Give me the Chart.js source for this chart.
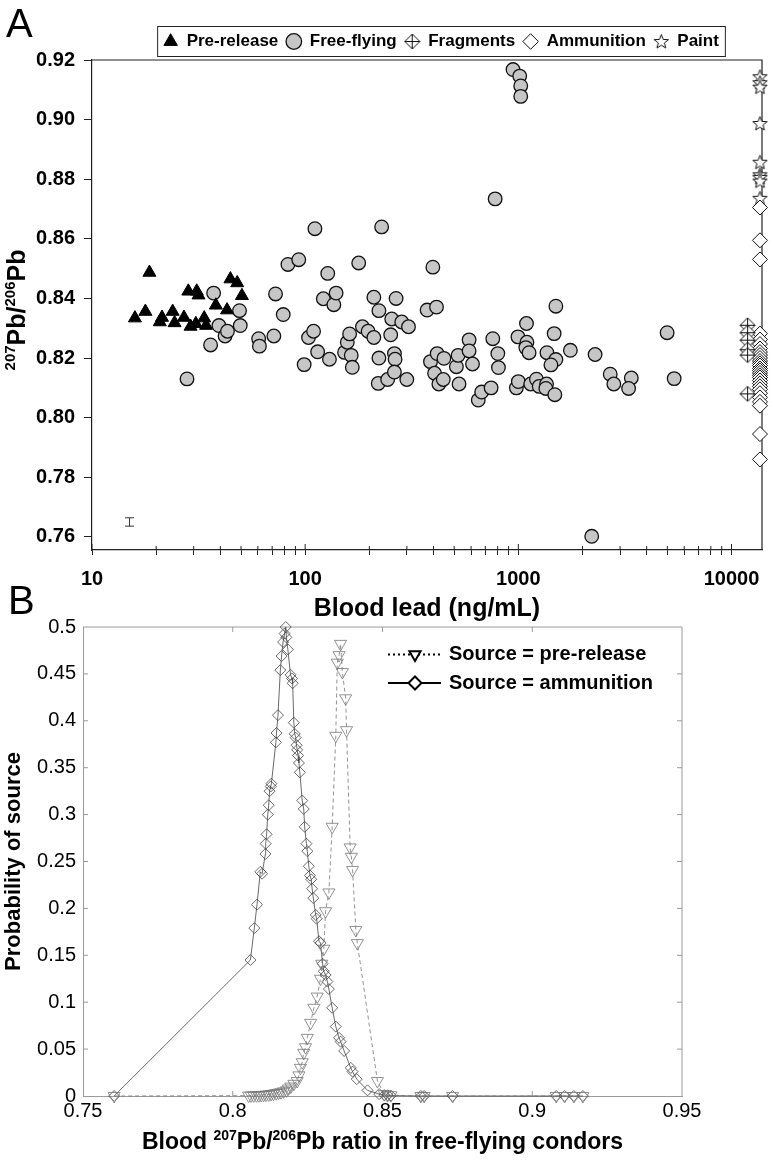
<!DOCTYPE html>
<html>
<head>
<meta charset="utf-8">
<script src="https://cdn.jsdelivr.net/npm/chart.js@4.4.1/dist/chart.umd.min.js"></script>
<style>
  html, body { margin: 0; padding: 0; background: #fff; }
  #wrap { position: relative; width: 773px; height: 1175px; }
  #chartA { position: absolute; left: 0; top: 0; }
  #chartB { position: absolute; left: 0; top: 590px; }
</style>
</head>
<body>
<div id="wrap">
  <canvas id="chartA" width="773" height="625"></canvas>
  <canvas id="chartB" width="773" height="585"></canvas>
</div>
<script>
// ---- Panel A: blood lead vs 207Pb/206Pb ----
const preLead  = [15.9, 17.8, 18.6, 20.8, 21.3, 23.9, 24.4, 27.0, 28.3, 29.0, 31.0, 31.6, 30.7, 33.6, 34.3, 38.1, 43.0, 44.6, 48.0, 50.5];
const preRatio = [0.8334, 0.8356, 0.8487, 0.8321, 0.8336, 0.8356, 0.8318, 0.8336, 0.8424, 0.8306, 0.8424, 0.8411, 0.8315, 0.8334, 0.8309, 0.8377, 0.8361, 0.8465, 0.8452, 0.8409];

const freeLead = [37.2, 27.9, 36.0, 39.4, 42.1, 43.2, 49.2, 49.6, 60.5, 61.0, 71.3, 72.6, 78.9, 83.0, 93.3, 98.9, 103.7, 109.5, 111.1, 114.4,
  127.6, 121.7, 130.0, 136.3, 139.7, 153.0, 157.6, 161.6, 164.5, 166.4, 178.3, 185.6, 197.4, 210.0, 210.0, 221.8, 221.8, 220.2, 228.4, 243.8,
  251.9, 254.7, 262.2, 264.1, 267.0, 262.2, 283.9, 299.8, 305.3, 373.3, 387.2, 397.2, 404.6, 413.2, 416.1, 423.8, 447.6, 444.5, 512.1, 521.6,
  527.0, 587.5, 587.5, 609.5, 648.6, 672.9, 745.2, 758.9, 778.4, 801.2, 806.6, 944, 1015, 1026, 1026, 996, 979, 1000,
  1500, 1092, 1097, 1084, 1123, 1472, 1754, 1362, 1500, 1422, 2291, 4988, 2698, 2805, 3388, 3290, 5382, 1143, 1216, 1253, 1356, 1346, 1483, 2209];
const freeRatio = [0.8418, 0.8130, 0.8244, 0.8309, 0.8274, 0.8290, 0.8359, 0.8309, 0.8265, 0.8240, 0.8274, 0.8415, 0.8346, 0.8514, 0.8530, 0.8178, 0.8269, 0.8290, 0.8634, 0.8221,
  0.8484, 0.8399, 0.8196, 0.8379, 0.8418, 0.8219, 0.8253, 0.8281, 0.8209, 0.8169, 0.8519, 0.8305, 0.8290, 0.8269, 0.8404, 0.8359, 0.8200, 0.8115, 0.8640, 0.8128,
  0.8278, 0.8331, 0.8215, 0.8196, 0.8400, 0.8153, 0.8321, 0.8128, 0.8305, 0.8361, 0.8188, 0.8505, 0.8149, 0.8371, 0.8215, 0.8113, 0.8199, 0.8128, 0.8171, 0.8209,
  0.8113, 0.8261, 0.8224, 0.8180, 0.8059, 0.8086, 0.8100, 0.8265, 0.8734, 0.8215, 0.8168, 0.9168, 0.9146, 0.9113, 0.9078, 0.8271, 0.8100, 0.8121,
  0.8374, 0.8316, 0.8253, 0.8235, 0.8218, 0.8282, 0.8226, 0.8218, 0.8195, 0.8177, 0.8212, 0.8285, 0.8146, 0.8113, 0.8133, 0.8098, 0.8131, 0.8113, 0.8129, 0.8105, 0.8113, 0.8098, 0.8077, 0.7602];

// source samples are plotted at the right edge of the axis
const fragLead = 11900;
const sourceLead = 13600;
const fragRatio  = [0.8310, 0.8285, 0.8260, 0.8228, 0.8210, 0.8080];
const ammoRatio  = [0.8705, 0.8595, 0.8531, 0.8282, 0.8262, 0.8247, 0.8232, 0.8220, 0.8210, 0.8200, 0.8190, 0.8182, 0.8175, 0.8165, 0.8158,
  0.8150, 0.8142, 0.8135, 0.8125, 0.8115, 0.8105, 0.8095, 0.8082, 0.8068, 0.8053, 0.8040, 0.7945, 0.7860];
const paintRatio = [0.9144, 0.9124, 0.9109, 0.8987, 0.8857, 0.8815, 0.8806, 0.8794, 0.8736];

// analytical error bar (lower left)
const errLead = [15];
const errLow  = [0.7636];
const errHigh = [0.7664];

const leadMajor = [10, 100, 1000, 10000];
const leadTicks = [10, 20, 30, 40, 50, 60, 70, 80, 90, 100, 200, 300, 400, 500, 600, 700, 800, 900,
  1000, 2000, 3000, 4000, 5000, 6000, 7000, 8000, 9000, 10000];
const ratioTicks = [0.76, 0.78, 0.80, 0.82, 0.84, 0.86, 0.88, 0.90, 0.92];

// ---- Panel B: probability of source ----
const ammoX = [0.7604, 0.8059, 0.8072, 0.8081, 0.8092, 0.8098, 0.8109, 0.8110, 0.8113, 0.8117, 0.8120, 0.8123, 0.8127, 0.8129, 0.8144, 0.8146,
  0.8151, 0.8159, 0.8163, 0.8168, 0.8173, 0.8177, 0.8179, 0.8184, 0.8193, 0.8198, 0.8200, 0.8204, 0.8207, 0.8210, 0.8213, 0.8215, 0.8218,
  0.8221, 0.8224, 0.8232, 0.8237, 0.8240, 0.8246, 0.8249, 0.8254, 0.8258, 0.8262, 0.8265, 0.8269, 0.8277, 0.8280, 0.8288, 0.8293, 0.8300,
  0.8304, 0.8310, 0.8316, 0.8321, 0.8332, 0.8344, 0.8355, 0.8360, 0.8372, 0.8394, 0.8400, 0.8414, 0.8450, 0.8489, 0.8506, 0.8517, 0.8528,
  0.8628, 0.8639, 0.8734, 0.9080, 0.9108, 0.9139, 0.9169];
const ammoP = [0, 0.145, 0.179, 0.204, 0.239, 0.237, 0.258, 0.269, 0.279, 0.300, 0.310, 0.325, 0.330, 0.333, 0.377, 0.387,
  0.406, 0.454, 0.469, 0.484, 0.493, 0.500, 0.489, 0.476, 0.449, 0.445, 0.440, 0.398, 0.386, 0.382, 0.374, 0.369, 0.363,
  0.355, 0.345, 0.315, 0.306, 0.287, 0.269, 0.261, 0.245, 0.235, 0.231, 0.221, 0.211, 0.193, 0.189, 0.165, 0.163, 0.141,
  0.133, 0.129, 0.122, 0.114, 0.094, 0.074, 0.062, 0.058, 0.048, 0.030, 0.026, 0.018, 0.006, 0.002, 0.001, 0.0008, 0.0004,
  0, 0, 0, 0, 0, 0, 0];

const preX = [0.7604, 0.8053, 0.8061, 0.8070, 0.8079, 0.8087, 0.8095, 0.8103, 0.8111, 0.8120, 0.8128, 0.8136, 0.8145, 0.8153, 0.8161, 0.8170,
  0.8179, 0.8186, 0.8194, 0.8204, 0.8215, 0.8221, 0.8226, 0.8232, 0.8237, 0.8243, 0.8249, 0.8260, 0.8271, 0.8282, 0.8293, 0.8297, 0.8304,
  0.8310, 0.8321, 0.8332, 0.8344, 0.8349, 0.8355, 0.8360, 0.8366, 0.8377, 0.8380, 0.8392, 0.8396, 0.8400, 0.8411, 0.8416, 0.8483, 0.8506,
  0.8517, 0.8528, 0.8628, 0.8639, 0.8734, 0.9080, 0.9108, 0.9139, 0.9169];
const preP = [0, 0.0004, 0.0005, 0.0006, 0.0007, 0.0008, 0.001, 0.0012, 0.0014, 0.0016, 0.002, 0.0025, 0.003, 0.0035, 0.004, 0.005,
  0.006, 0.008, 0.010, 0.013, 0.016, 0.022, 0.030, 0.036, 0.046, 0.052, 0.062, 0.078, 0.094, 0.106, 0.125, 0.141, 0.157,
  0.197, 0.217, 0.287, 0.384, 0.462, 0.470, 0.482, 0.452, 0.424, 0.390, 0.265, 0.255, 0.241, 0.177, 0.163, 0.016, 0.002,
  0.001, 0.0008, 0, 0, 0, 0, 0, 0, 0];

const probXTicks = [0.75, 0.8, 0.85, 0.9, 0.95];
const probYTicks = [0, 0.05, 0.1, 0.15, 0.2, 0.25, 0.3, 0.35, 0.4, 0.45, 0.5];

const FONT = "'Liberation Sans', Arial, sans-serif";
Chart.defaults.font.family = FONT;
Chart.defaults.color = '#000';

function pts(xs, ys) {
  return xs.map((x, i) => ({ x: x, y: ys[i] }));
}

// custom markers
function makeStar(size, outer, inner) {
  const c = document.createElement('canvas');
  c.width = c.height = size;
  const g = c.getContext('2d');
  const m = size / 2;
  g.beginPath();
  for (let i = 0; i < 10; i++) {
    const r = i % 2 ? inner : outer;
    const a = -Math.PI / 2 + i * Math.PI / 5;
    g.lineTo(m + r * Math.cos(a), m + 0.5 + r * Math.sin(a));
  }
  g.closePath();
  g.fillStyle = '#fff';
  g.fill();
  g.strokeStyle = '#111';
  g.lineWidth = 1;
  g.stroke();
  return c;
}

function makeCrossDiamond(size, half) {
  const c = document.createElement('canvas');
  c.width = c.height = size;
  const g = c.getContext('2d');
  const m = size / 2;
  g.beginPath();
  g.moveTo(m, m - half); g.lineTo(m + half, m); g.lineTo(m, m + half); g.lineTo(m - half, m);
  g.closePath();
  g.fillStyle = '#fff';
  g.fill();
  g.strokeStyle = '#111';
  g.lineWidth = 1;
  g.stroke();
  g.beginPath();
  g.moveTo(m, m - half); g.lineTo(m, m + half);
  g.moveTo(m - half, m); g.lineTo(m + half, m);
  g.stroke();
  return c;
}

const starImg = makeStar(17, 7.5, 3.2);
const fragImg = makeCrossDiamond(17, 7.5);

// text with superscripts: parts = [[text, isSup], ...]
function drawRich(ctx, parts, cx, baseY, mainSize, supSize, rise) {
  const mainFont = 'bold ' + mainSize + 'px ' + FONT;
  const supFont = 'bold ' + supSize + 'px ' + FONT;
  let total = 0;
  parts.forEach(p => { ctx.font = p[1] ? supFont : mainFont; total += ctx.measureText(p[0]).width; });
  let x = cx - total / 2;
  ctx.textAlign = 'left';
  ctx.textBaseline = 'alphabetic';
  parts.forEach(p => {
    ctx.font = p[1] ? supFont : mainFont;
    ctx.fillText(p[0], x, p[1] ? baseY - rise : baseY);
    x += ctx.measureText(p[0]).width;
  });
}

const panelAPlugin = {
  id: 'panelA',
  afterLayout(chart) {
    // centre the legend a little right of the plot centre, as in the figure
    chart.legend.left = 120;
    chart.legend.right = 762;
  },
  beforeDatasetsDraw(chart) {
    const { ctx, chartArea: a, scales: { x } } = chart;
    ctx.save();
    ctx.strokeStyle = '#222';
    ctx.lineWidth = 1.2;
    ctx.beginPath();
    ctx.moveTo(a.left, a.top); ctx.lineTo(a.right, a.top); ctx.lineTo(a.right, a.bottom);
    ctx.stroke();
    // inner half of the x ticks
    ctx.lineWidth = 1;
    leadTicks.forEach(v => {
      const px = x.getPixelForValue(v);
      const len = leadMajor.includes(v) ? 6 : 4;
      ctx.beginPath();
      ctx.moveTo(px, a.bottom); ctx.lineTo(px, a.bottom - len);
      ctx.stroke();
    });
    ctx.restore();
  },
  afterDraw(chart) {
    const { ctx } = chart;
    ctx.save();
    // legend frame
    const boxes = chart.legend.legendHitBoxes;
    if (boxes && boxes.length) {
      const l = Math.min(...boxes.map(b => b.left)) - 6;
      const r = Math.max(...boxes.map(b => b.left + b.width)) + 6;
      const t = Math.min(...boxes.map(b => b.top)) - 7;
      const bt = Math.max(...boxes.map(b => b.top + b.height)) + 6;
      ctx.strokeStyle = '#222';
      ctx.lineWidth = 1;
      ctx.strokeRect(l + 0.5, t + 0.5, r - l, bt - t);
    }
    // panel letters
    ctx.fillStyle = '#000';
    ctx.font = '40px ' + FONT;
    ctx.textAlign = 'left';
    ctx.textBaseline = 'alphabetic';
    ctx.fillText('A', 6, 37);
    ctx.fillText('B', 8, 614);
    // y-axis title
    ctx.translate(25, chart.chartArea.top + chart.chartArea.height / 2 + 5);
    ctx.rotate(-Math.PI / 2);
    drawRich(ctx, [['207', true], ['Pb/', false], ['206', true], ['Pb', false]], 0, 0, 25, 15, 10);
    ctx.restore();
  }
};

new Chart(document.getElementById('chartA'), {
  type: 'scatter',
  data: {
    datasets: [
      { label: 'Pre-release', data: pts(preLead, preRatio), pointStyle: 'triangle', pointRadius: 7.5,
        backgroundColor: '#000', borderColor: '#000', borderWidth: 1, clip: false },
      { label: 'Free-flying', data: pts(freeLead, freeRatio), pointStyle: 'circle', pointRadius: 6.8,
        backgroundColor: '#c6c6c6', borderColor: '#111', borderWidth: 1.3, clip: false },
      { label: 'Fragments', data: fragRatio.map(r => ({ x: fragLead, y: r })), pointStyle: fragImg, pointRadius: 8,
        backgroundColor: '#fff', borderColor: '#111', borderWidth: 1, clip: false },
      { label: 'Ammunition', data: ammoRatio.map(r => ({ x: sourceLead, y: r })), pointStyle: 'rectRot', pointRadius: 7.5,
        backgroundColor: '#fff', borderColor: '#111', borderWidth: 1, clip: false },
      { label: 'Paint', data: paintRatio.map(r => ({ x: sourceLead, y: r })), pointStyle: starImg, pointRadius: 8,
        backgroundColor: '#fff', borderColor: '#111', borderWidth: 1, clip: false },
      { label: '', data: errLead.flatMap((x, i) => [{ x: x, y: errLow[i] }, { x: x, y: errHigh[i] }]),
        showLine: true, pointStyle: 'line', pointRadius: 4.5, borderColor: '#333', backgroundColor: '#333', borderWidth: 1 }
    ]
  },
  options: {
    responsive: false,
    animation: false,
    devicePixelRatio: 1,
    layout: { padding: { top: 25, right: 11, left: 0, bottom: 0 } },
    plugins: {
      tooltip: { enabled: false },
      legend: {
        position: 'top',
        labels: {
          usePointStyle: true,
          boxWidth: 15,
          boxHeight: 11,
          padding: 8,
          color: '#000',
          font: { size: 17, weight: 'bold' },
          filter: item => item.text !== ''
        }
      }
    },
    scales: {
      x: {
        type: 'logarithmic',
        min: 10,
        max: 13900,
        afterBuildTicks: s => { s.ticks = leadTicks.map(v => ({ value: v, major: leadMajor.includes(v) })); },
        afterFit: s => { s.height = 75; },
        border: { color: '#222', width: 1.2 },
        grid: { drawOnChartArea: false, tickLength: 5, tickColor: '#222', tickWidth: 1 },
        ticks: {
          autoSkip: false, maxRotation: 0, padding: 12, color: '#000',
          font: { size: 20, weight: 'bold' },
          callback: v => leadMajor.includes(v) ? String(v) : ''
        },
        title: {
          display: true, text: 'Blood lead (ng/mL)', color: '#000',
          font: { size: 25, weight: 'bold' }, padding: { top: 0, bottom: 1 }
        }
      },
      y: {
        min: 0.7556,
        max: 0.92,
        afterBuildTicks: s => { s.ticks = ratioTicks.map(v => ({ value: v })); },
        afterFit: s => { s.width = 92; },
        border: { color: '#222', width: 1.2 },
        grid: { drawOnChartArea: false, tickLength: 8, tickColor: '#222', tickWidth: 1 },
        ticks: { padding: 9, color: '#000', font: { size: 20, weight: 'bold' }, callback: v => v.toFixed(2) }
      }
    }
  },
  plugins: [panelAPlugin]
});

// ---- Panel B ----
function legendMarker(ctx, style, x, y, r) {
  ctx.beginPath();
  if (style === 'triangleDown') {
    ctx.moveTo(x, y + r);
    ctx.lineTo(x + r * 0.866, y - r * 0.5);
    ctx.lineTo(x - r * 0.866, y - r * 0.5);
  } else {
    ctx.moveTo(x - r, y); ctx.lineTo(x, y - r); ctx.lineTo(x + r, y); ctx.lineTo(x, y + r);
  }
  ctx.closePath();
  ctx.fillStyle = '#fff';
  ctx.fill();
  ctx.stroke();
}

const panelBPlugin = {
  id: 'panelB',
  beforeDatasetsDraw(chart) {
    const { ctx, chartArea: a, scales: { x, y } } = chart;
    ctx.save();
    ctx.strokeStyle = '#9a9a9a';
    ctx.lineWidth = 1;
    ctx.beginPath();
    ctx.moveTo(a.left, a.top); ctx.lineTo(a.right, a.top); ctx.lineTo(a.right, a.bottom);
    probXTicks.slice(1, -1).forEach(v => {
      const px = x.getPixelForValue(v);
      ctx.moveTo(px, a.bottom); ctx.lineTo(px, a.bottom - 5);
      ctx.moveTo(px, a.top); ctx.lineTo(px, a.top + 5);
    });
    probYTicks.slice(1, -1).forEach(v => {
      const py = y.getPixelForValue(v);
      ctx.moveTo(a.left, py); ctx.lineTo(a.left + 5, py);
      ctx.moveTo(a.right, py); ctx.lineTo(a.right - 5, py);
    });
    ctx.stroke();
    ctx.restore();
  },
  afterDraw(chart) {
    const { ctx, chartArea: a } = chart;
    ctx.save();
    // legend
    const rows = [
      { y: 64.5, dash: [2, 3], style: 'triangleDown', text: 'Source = pre-release' },
      { y: 93, dash: [], style: 'diamond', text: 'Source = ammunition' }
    ];
    rows.forEach(r => {
      ctx.strokeStyle = '#000';
      ctx.lineWidth = 2;
      ctx.setLineDash(r.dash);
      ctx.beginPath();
      ctx.moveTo(388, r.y); ctx.lineTo(441, r.y);
      ctx.stroke();
      ctx.setLineDash([]);
      legendMarker(ctx, r.style, 415, r.y, 6.5);
      ctx.fillStyle = '#000';
      ctx.font = 'bold 20px ' + FONT;
      ctx.textAlign = 'left';
      ctx.textBaseline = 'middle';
      ctx.fillText(r.text, 449, r.y);
    });
    // x title
    ctx.fillStyle = '#000';
    drawRich(ctx, [['Blood ', false], ['207', true], ['Pb/', false], ['206', true], ['Pb ratio in free-flying condors', false]],
      (a.left + a.right) / 2, 559, 23, 14, 9);
    // y title
    ctx.translate(14, (a.top + a.bottom) / 2);
    ctx.rotate(-Math.PI / 2);
    ctx.font = 'bold 22px ' + FONT;
    ctx.textAlign = 'center';
    ctx.textBaseline = 'middle';
    ctx.fillText('Probability of source', 0, 0);
    ctx.restore();
  }
};

new Chart(document.getElementById('chartB'), {
  type: 'scatter',
  data: {
    datasets: [
      { label: 'Source = pre-release', data: pts(preX, preP), showLine: true,
        pointStyle: 'triangle', rotation: 180, pointRadius: 7,
        backgroundColor: 'rgba(0,0,0,0)', borderColor: '#777', borderWidth: 0.8,
        borderDash: [4, 3], clip: false },
      { label: 'Source = ammunition', data: pts(ammoX, ammoP), showLine: true,
        pointStyle: 'rectRot', pointRadius: 5.5,
        backgroundColor: 'rgba(0,0,0,0)', borderColor: '#444', borderWidth: 0.8, clip: false }
    ]
  },
  options: {
    responsive: false,
    animation: false,
    devicePixelRatio: 1,
    layout: { padding: { top: 37, right: 91, left: 0, bottom: 0 } },
    plugins: { legend: { display: false }, tooltip: { enabled: false } },
    scales: {
      x: {
        type: 'linear',
        min: 0.75,
        max: 0.95,
        afterBuildTicks: s => { s.ticks = probXTicks.map(v => ({ value: v })); },
        afterFit: s => { s.height = 79; },
        border: { color: '#9a9a9a', width: 1 },
        grid: { display: false, drawTicks: false },
        ticks: { padding: 3, color: '#000', font: { size: 20 }, callback: v => String(v) }
      },
      y: {
        min: 0,
        max: 0.5,
        afterBuildTicks: s => { s.ticks = probYTicks.map(v => ({ value: v })); },
        afterFit: s => { s.width = 83; },
        border: { color: '#9a9a9a', width: 1 },
        grid: { display: false, drawTicks: false },
        ticks: { padding: 7, color: '#000', font: { size: 20 }, callback: v => String(v) }
      }
    }
  },
  plugins: [panelBPlugin]
});
</script>
</body>
</html>
